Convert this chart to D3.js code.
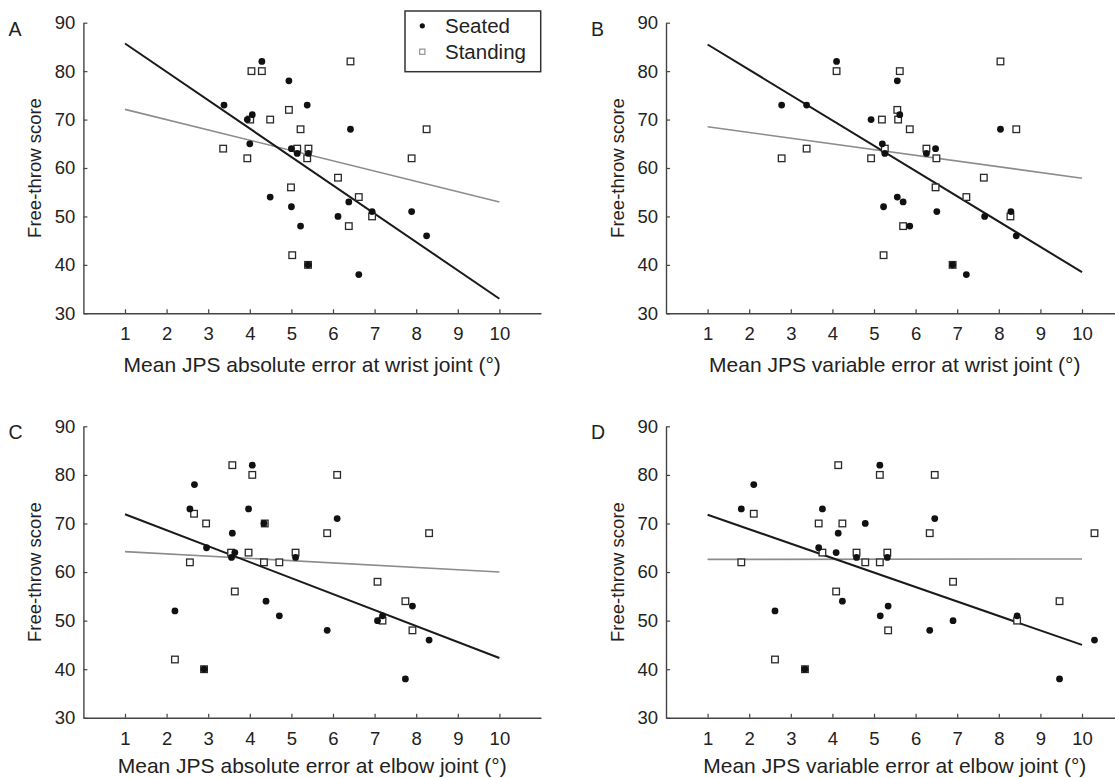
<!DOCTYPE html>
<html>
<head>
<meta charset="utf-8">
<script src="https://cdn.jsdelivr.net/npm/d3@7/dist/d3.min.js"></script>
<style>
  html, body { margin: 0; padding: 0; background: #fff; }
  svg { display: block; font-family: "Liberation Sans", Arial, Helvetica, sans-serif; }
</style>
</head>
<body>
<svg id="chart" width="1115" height="778"></svg>
<script>
// ---------- data ----------
const panelLetters = ["A", "B", "C", "D"];
const xTitles = [
  "Mean JPS absolute error at wrist joint (°)",
  "Mean JPS variable error at wrist joint (°)",
  "Mean JPS absolute error at elbow joint (°)",
  "Mean JPS variable error at elbow joint (°)"
];
const yTitle = "Free-throw score";
const xTicks = [1, 2, 3, 4, 5, 6, 7, 8, 9, 10];
const yTicks = [30, 40, 50, 60, 70, 80, 90];
const seriesNames = ["Seated", "Standing"];

// Panel A – absolute error, wrist
const aSeatedX = [3.38, 4.29, 3.94, 4.06, 4.00, 4.94, 5.00, 5.14, 4.49, 5.00, 5.22, 5.38, 6.42, 5.41, 6.38, 6.94, 7.89, 6.12, 8.25, 5.40, 6.62];
const aSeatedY = [73, 82, 70, 71, 65, 78, 64, 63, 54, 52, 48, 73, 68, 63, 53, 51, 51, 50, 46, 40, 38];
const aStandX  = [4.04, 4.29, 3.36, 3.94, 4.01, 4.49, 4.94, 4.99, 5.02, 5.14, 5.22, 6.42, 8.25, 5.41, 5.38, 7.89, 6.12, 6.62, 6.38, 6.94, 5.40];
const aStandY  = [80, 80, 64, 62, 70, 70, 72, 56, 42, 64, 68, 82, 68, 64, 62, 62, 58, 54, 48, 50, 40];

// Panel B – variable error, wrist
const bSeatedX = [2.78, 3.38, 4.10, 4.93, 5.56, 5.62, 5.20, 5.26, 6.26, 6.48, 8.04, 5.56, 5.70, 5.23, 6.51, 5.86, 7.66, 8.29, 8.42, 6.89, 7.22];
const bSeatedY = [73, 73, 82, 70, 78, 71, 65, 63, 63, 64, 68, 54, 53, 52, 51, 48, 50, 51, 46, 40, 38];
const bStandX  = [4.10, 2.78, 3.38, 4.93, 5.62, 5.56, 5.58, 5.19, 5.86, 8.04, 8.42, 5.26, 6.26, 6.50, 6.48, 7.64, 7.22, 5.70, 8.28, 5.23, 6.89];
const bStandY  = [80, 62, 64, 62, 80, 72, 70, 70, 68, 82, 68, 64, 64, 62, 56, 58, 54, 48, 50, 42, 40];

// Panel C – absolute error, elbow
const cSeatedX = [2.20, 2.67, 2.56, 2.96, 3.58, 3.56, 3.64, 4.06, 3.97, 4.34, 4.39, 4.71, 5.10, 2.90, 6.10, 5.86, 7.07, 7.19, 7.91, 8.31, 7.74];
const cSeatedY = [52, 78, 73, 65, 68, 63, 64, 82, 73, 70, 54, 51, 63, 40, 71, 48, 50, 51, 53, 46, 38];
const cStandX  = [2.66, 2.56, 2.95, 2.20, 3.58, 4.06, 4.36, 3.55, 3.97, 4.34, 4.71, 3.64, 5.10, 2.90, 6.10, 5.86, 8.31, 7.07, 7.74, 7.19, 7.91];
const cStandY  = [72, 62, 70, 42, 82, 80, 70, 64, 64, 62, 62, 56, 64, 40, 80, 68, 68, 58, 54, 50, 48];

// Panel D – variable error, elbow
const dSeatedX = [1.81, 2.11, 2.62, 3.76, 3.67, 4.14, 4.09, 4.24, 4.58, 4.79, 3.34, 5.14, 5.32, 6.46, 5.34, 5.15, 6.34, 6.90, 8.44, 10.30, 9.46];
const dSeatedY = [73, 78, 52, 73, 65, 68, 64, 54, 63, 70, 40, 82, 63, 71, 53, 51, 48, 50, 51, 46, 38];
const dStandX  = [2.11, 1.81, 2.62, 3.67, 4.24, 4.14, 3.76, 4.58, 4.79, 4.09, 5.14, 6.46, 6.34, 10.30, 5.32, 5.14, 6.90, 9.46, 8.44, 5.34, 3.34];
const dStandY  = [72, 62, 42, 70, 70, 82, 64, 64, 62, 56, 80, 80, 68, 68, 64, 62, 58, 54, 50, 48, 40];

// Regression lines: predicted score at x = fitX[0] and x = fitX[1]
const fitX = [1, 10];
const aFitSeated = [85.7, 33.0], aFitStand = [72.1, 53.0];
const bFitSeated = [85.5, 38.5], bFitStand = [68.5, 57.9];
const cFitSeated = [71.9, 42.3], cFitStand = [64.2, 60.0];
const dFitSeated = [71.8, 45.0], dFitStand = [62.6, 62.7];

// ---------- assemble ----------
const panelData = [
  {sx: aSeatedX, sy: aSeatedY, tx: aStandX, ty: aStandY, fs: aFitSeated, ft: aFitStand},
  {sx: bSeatedX, sy: bSeatedY, tx: bStandX, ty: bStandY, fs: bFitSeated, ft: bFitStand},
  {sx: cSeatedX, sy: cSeatedY, tx: cStandX, ty: cStandY, fs: cFitSeated, ft: cFitStand},
  {sx: dSeatedX, sy: dSeatedY, tx: dStandX, ty: dStandY, fs: dFitSeated, ft: dFitStand}
];

// layout
const layout = [
  {left: 83.4, top: 22.7, bottom: 313.3, titleDy: 58.5},
  {left: 666.0, top: 22.7, bottom: 313.3, titleDy: 58.5},
  {left: 83.4, top: 426.3, bottom: 717.8, titleDy: 55.5},
  {left: 666.0, top: 426.3, bottom: 717.8, titleDy: 55.5}
];
const plotW = 457.6;
const axisColor = "#444";

const svg = d3.select("#chart");
svg.append("rect").attr("width", 1115).attr("height", 778).attr("fill", "#fff");

panelData.forEach((pd, i) => {
  const L = layout[i];
  const x = d3.scaleLinear().domain([0, 11]).range([L.left, L.left + plotW]);
  const y = d3.scaleLinear().domain([30, 90]).range([L.bottom, L.top]);
  const g = svg.append("g");

  // axes
  const xAxis = d3.axisBottom(x).tickValues(xTicks).tickFormat(d3.format("d"))
    .tickSizeInner(-4).tickSizeOuter(0).tickPadding(14);
  const yAxis = d3.axisLeft(y).tickValues(yTicks).tickFormat(d3.format("d"))
    .tickSizeInner(-4).tickSizeOuter(0).tickPadding(8);

  const gx = g.append("g").attr("transform", `translate(0,${L.bottom})`).call(xAxis);
  const gy = g.append("g").attr("transform", `translate(${L.left},0)`).call(yAxis);
  [gx, gy].forEach(a => {
    a.select(".domain").attr("stroke", axisColor).attr("stroke-width", 1.4);
    a.selectAll(".tick line").attr("stroke", axisColor).attr("stroke-width", 1.2);
    a.selectAll(".tick text").attr("fill", "#222").attr("font-size", 18.5)
      .attr("font-family", '"Liberation Sans", Arial, sans-serif');
  });

  // axis titles
  g.append("text")
    .attr("x", (x.range()[0] + x.range()[1]) / 2)
    .attr("y", L.bottom + L.titleDy)
    .attr("text-anchor", "middle")
    .attr("font-size", 21).attr("fill", "#222")
    .text(xTitles[i]);

  const yc = (L.top + L.bottom) / 2;
  g.append("text")
    .attr("transform", `translate(${L.left - 42.5},${yc}) rotate(-90)`)
    .attr("text-anchor", "middle")
    .attr("font-size", 18.5).attr("fill", "#222")
    .text(yTitle);

  // panel letter
  g.append("text")
    .attr("x", L.left - 75)
    .attr("y", L.top + 13)
    .attr("font-size", 19.5).attr("fill", "#222")
    .text(panelLetters[i]);

  // regression lines
  const line = d3.line().x(d => x(d[0])).y(d => y(d[1]));
  g.append("path")
    .datum(fitX.map((v, k) => [v, pd.ft[k]]))
    .attr("d", line).attr("fill", "none")
    .attr("stroke", "#8c8c8c").attr("stroke-width", 1.6);
  g.append("path")
    .datum(fitX.map((v, k) => [v, pd.fs[k]]))
    .attr("d", line).attr("fill", "none")
    .attr("stroke", "#1a1a1a").attr("stroke-width", 2);

  // standing squares
  const sq = 6.6;
  g.selectAll(".stand").data(pd.tx.map((v, k) => [v, pd.ty[k]])).join("rect")
    .attr("x", d => x(d[0]) - sq / 2).attr("y", d => y(d[1]) - sq / 2)
    .attr("width", sq).attr("height", sq)
    .attr("fill", "#fff").attr("stroke", "#2a2a2a").attr("stroke-width", 1.3);

  // seated dots
  g.selectAll(".seat").data(pd.sx.map((v, k) => [v, pd.sy[k]])).join("circle")
    .attr("cx", d => x(d[0])).attr("cy", d => y(d[1])).attr("r", 3.4)
    .attr("fill", "#111");
});

// legend (panel A)
const lg = svg.append("g");
lg.append("rect").attr("x", 405).attr("y", 11).attr("width", 135.7).attr("height", 60.7)
  .attr("fill", "#fff").attr("stroke", "#333").attr("stroke-width", 1.5);
lg.append("circle").attr("cx", 422.3).attr("cy", 25.8).attr("r", 2.6).attr("fill", "#111");
lg.append("rect").attr("x", 422.3 - 2.6).attr("y", 51.7 - 2.6).attr("width", 5.2).attr("height", 5.2)
  .attr("fill", "#fff").attr("stroke", "#888").attr("stroke-width", 1.1);
lg.append("text").attr("x", 445).attr("y", 33.3).attr("font-size", 20.5).attr("fill", "#222").text(seriesNames[0]);
lg.append("text").attr("x", 445).attr("y", 58.8).attr("font-size", 20.5).attr("fill", "#222").text(seriesNames[1]);
</script>
</body>
</html>
